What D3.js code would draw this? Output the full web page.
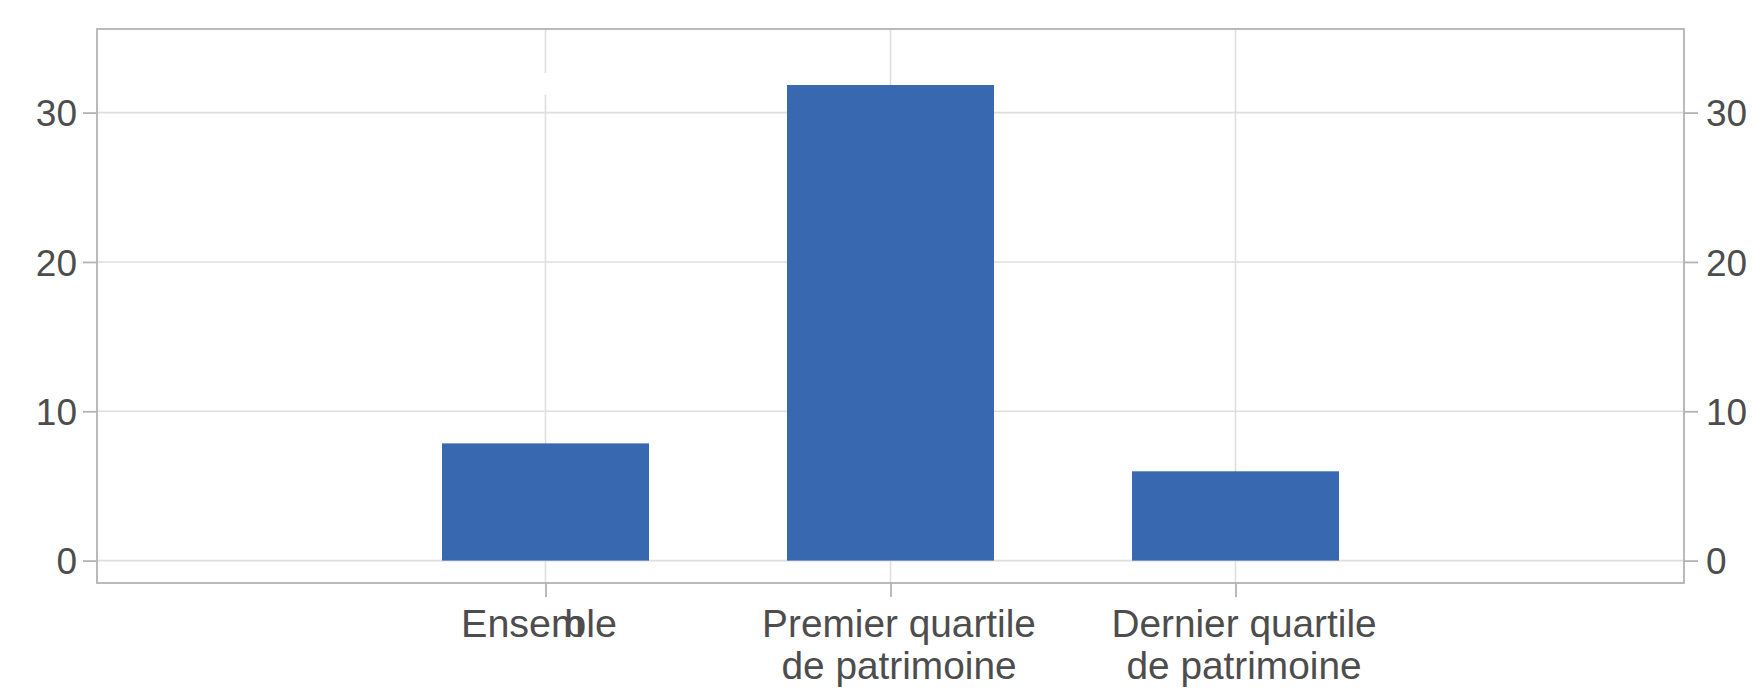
<!DOCTYPE html>
<html><head><meta charset="utf-8">
<script src="https://cdn.jsdelivr.net/npm/d3@7"></script>
<style>html,body{margin:0;padding:0;background:#fff;}</style>
</head><body>
<svg id="c" width="1752" height="697"></svg>
<script>
const categories = [["Ensemble"], ["Premier quartile", "de patrimoine"], ["Dernier quartile", "de patrimoine"]];
const values = [7.85, 31.85, 5.98];
const yTicks = [0, 10, 20, 30];

const W = 1752, H = 697;
const m = {left: 97, right: 1684, top: 29, bottom: 583};
const svg = d3.select("#c");
const keys = categories.map(c => c.join(" "));

const x = d3.scalePoint().domain(keys).range([m.left, m.right]).padding(1.3);
const y = d3.scaleLinear().domain([-1.5, 35.6]).range([m.bottom, m.top]);
const bw = x.step() * 0.6;

const grid = "#dedede", frame = "#b3b3b3", txt = "#4d4d4d", font = "'Liberation Sans', Arial, sans-serif";

// horizontal gridlines
svg.append("g").selectAll("line").data(yTicks).join("line")
  .attr("x1", m.left).attr("x2", m.right)
  .attr("y1", d => y(d)).attr("y2", d => y(d))
  .attr("stroke", grid).attr("stroke-width", 1.6);
// vertical gridlines
svg.append("g").selectAll("line").data(keys).join("line")
  .attr("x1", d => x(d)).attr("x2", d => x(d))
  .attr("y1", m.top).attr("y2", m.bottom)
  .attr("stroke", grid).attr("stroke-width", 1.6);
// small gap artefact in first vertical gridline
svg.append("rect").attr("x", x(keys[0]) - 3).attr("width", 6)
  .attr("y", y(32.65)).attr("height", y(31.2) - y(32.65)).attr("fill", "#fff");

// bars
svg.append("g").selectAll("rect").data(values).join("rect")
  .attr("x", (d, i) => x(keys[i]) - bw / 2).attr("width", bw)
  .attr("y", d => y(d)).attr("height", d => y(0) - y(d))
  .attr("fill", "#3868b0");

// frame
svg.append("rect").attr("x", m.left).attr("y", m.top)
  .attr("width", m.right - m.left).attr("height", m.bottom - m.top)
  .attr("fill", "none").attr("stroke", frame).attr("stroke-width", 1.8);

// axes
const styleAxis = g => {
  g.select(".domain").remove();
  g.selectAll(".tick line").attr("stroke", frame).attr("stroke-width", 1.8);
  g.selectAll(".tick text").attr("fill", txt).style("font-family", font).style("font-size", "37px");
};
svg.append("g").attr("transform", `translate(${m.left},0)`)
  .call(d3.axisLeft(y).tickValues(yTicks).tickSize(14).tickPadding(6))
  .call(styleAxis)
  .selectAll(".tick text").attr("dy", "0.36em");
svg.append("g").attr("transform", `translate(${m.right},0)`)
  .call(d3.axisRight(y).tickValues(yTicks).tickSize(14).tickPadding(8))
  .call(styleAxis)
  .selectAll(".tick text").attr("dy", "0.36em");

const xa = svg.append("g").attr("transform", `translate(0,${m.bottom})`)
  .call(d3.axisBottom(x).tickSize(14).tickFormat(""))
  .call(styleAxis);
xa.selectAll(".tick").each(function(d, i) {
  const g = d3.select(this);
  if (i === 0) {
    // label rendered with overlapping glyph run as in the source
    const t = g.append("text").attr("fill", txt)
      .style("font-family", font).style("font-size", "39.5px")
      .attr("text-anchor", "middle").attr("x", -7).attr("y", 54);
    t.append("tspan").text("Ensem");
    t.append("tspan").attr("dx", "-0.5em").text("ble");
  } else {
    const t = g.append("text").attr("fill", txt)
      .style("font-family", font).style("font-size", "38.8px").attr("text-anchor", "middle");
    categories[i].forEach((line, j) => {
      t.append("tspan").attr("x", 8).attr("y", 54 + j * 42).text(line);
    });
  }
});
</script>
</body></html>
